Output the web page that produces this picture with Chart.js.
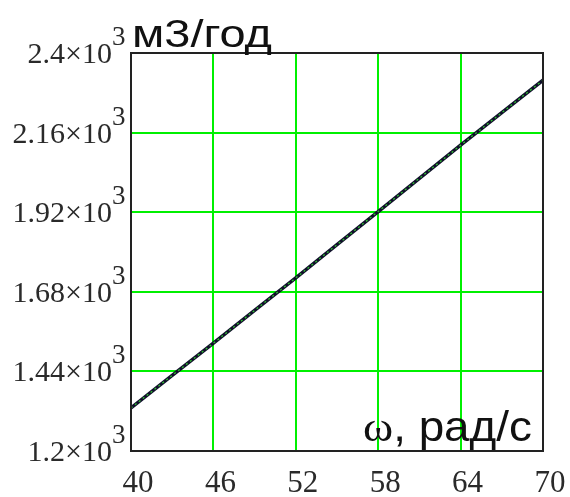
<!DOCTYPE html>
<html>
<head>
<meta charset="utf-8">
<script src="https://cdn.jsdelivr.net/npm/chart.js@4/dist/chart.umd.min.js"></script>
<style>
  html, body { margin: 0; padding: 0; background: #fff; }
  #wrap { width: 570px; height: 497px; }
</style>
</head>
<body>
<div id="wrap"><canvas id="c" width="570" height="497"></canvas></div>
<script>
// Angular speed, rad/s
const omega = [40, 43, 46, 49, 52, 55, 58, 61, 64, 67, 70];
// Flow, m3 per year
const flow = [1330, 1428, 1525, 1624, 1722, 1822, 1922, 2022, 2122, 2220, 2318];
// Axis tick positions and labels
const xTicks = [40, 46, 52, 58, 64, 70];
const yTicks = [1200, 1440, 1680, 1920, 2160, 2400];
const yMantissa = ['1.2', '1.44', '1.68', '1.92', '2.16', '2.4'];
const yExponent = '3';
const yUnit = 'м3/год';
const xUnitSymbol = 'ω';
const xUnitText = ', рад/с';

const points = omega.map((w, i) => ({ x: w, y: flow[i] }));

const SERIF = '"Liberation Serif", "Times New Roman", serif';
const SANS = '"Liberation Sans", Arial, sans-serif';

// Draw text squeezed/stretched horizontally to a given width
function fitText(ctx, text, x, y, width) {
  const w = ctx.measureText(text).width;
  ctx.save();
  ctx.translate(x, y);
  ctx.scale(width / w, 1);
  ctx.fillText(text, 0, 0);
  ctx.restore();
}

// Tick labels in scientific form, plot frame and unit labels
const labelPlugin = {
  id: 'labels',
  afterDraw(chart) {
    const { ctx, chartArea: a, scales } = chart;
    ctx.save();

    // frame
    ctx.strokeStyle = '#222';
    ctx.lineWidth = 2;
    ctx.strokeRect(a.left, a.top, a.right - a.left, a.bottom - a.top);

    // y tick labels: mantissa×10 with raised exponent
    ctx.fillStyle = '#2a2a2a';
    ctx.textBaseline = 'alphabetic';
    yTicks.forEach((v, i) => {
      const py = scales.y.getPixelForValue(v);
      const right = a.left - 19;
      ctx.font = '30px ' + SERIF;
      ctx.textAlign = 'right';
      ctx.fillText(yMantissa[i] + '×10', right, py + 10);
      ctx.font = '27px ' + SERIF;
      ctx.textAlign = 'left';
      ctx.fillText(yExponent, right, py - 8);
    });

    // x tick labels
    ctx.font = '31px ' + SERIF;
    ctx.textAlign = 'center';
    xTicks.forEach(v => {
      const px = scales.x.getPixelForValue(v);
      ctx.fillText(String(v), px + 7, a.bottom + 41);
    });

    // unit labels
    ctx.fillStyle = '#111';
    ctx.textAlign = 'left';
    ctx.font = '38px ' + SANS;
    fitText(ctx, yUnit, a.left + 1, a.top - 6, 140);

    ctx.font = '42px ' + SERIF;
    const symW = ctx.measureText(xUnitSymbol).width;
    ctx.font = '42px ' + SANS;
    const restW = ctx.measureText(xUnitText).width;
    const total = 169;
    const k = total / (symW + restW);
    const startX = a.right - 11 - total;
    const base = a.bottom - 10;
    ctx.font = '42px ' + SERIF;
    fitText(ctx, xUnitSymbol, startX, base, symW * k);
    ctx.font = '42px ' + SANS;
    fitText(ctx, xUnitText, startX + symW * k, base, restW * k);

    ctx.restore();
  }
};

new Chart(document.getElementById('c'), {
  type: 'line',
  data: {
    datasets: [
      {
        data: points,
        borderColor: '#10102a',
        borderWidth: 3.5,
        pointRadius: 0,
        tension: 0,
        order: 2
      },
      {
        data: points,
        borderColor: '#30c030',
        borderWidth: 1.3,
        borderDash: [2, 3],
        pointRadius: 0,
        tension: 0,
        order: 1
      }
    ]
  },
  options: {
    responsive: false,
    animation: false,
    events: [],
    layout: { padding: { top: 53, right: 27, bottom: 0, left: 0 } },
    plugins: { legend: { display: false }, tooltip: { enabled: false } },
    scales: {
      x: {
        type: 'linear',
        min: 40,
        max: 70,
        afterBuildTicks(scale) { scale.ticks = xTicks.map(v => ({ value: v })); },
        afterFit(scale) { scale.height = 46; },
        ticks: { display: false },
        grid: { color: '#00f000', lineWidth: 2, drawTicks: false },
        border: { display: false }
      },
      y: {
        type: 'linear',
        min: 1200,
        max: 2400,
        afterBuildTicks(scale) { scale.ticks = yTicks.map(v => ({ value: v })); },
        afterFit(scale) { scale.width = 131; },
        ticks: { display: false },
        grid: { color: '#00f000', lineWidth: 2, drawTicks: false },
        border: { display: false }
      }
    }
  },
  plugins: [labelPlugin]
});
</script>
</body>
</html>
